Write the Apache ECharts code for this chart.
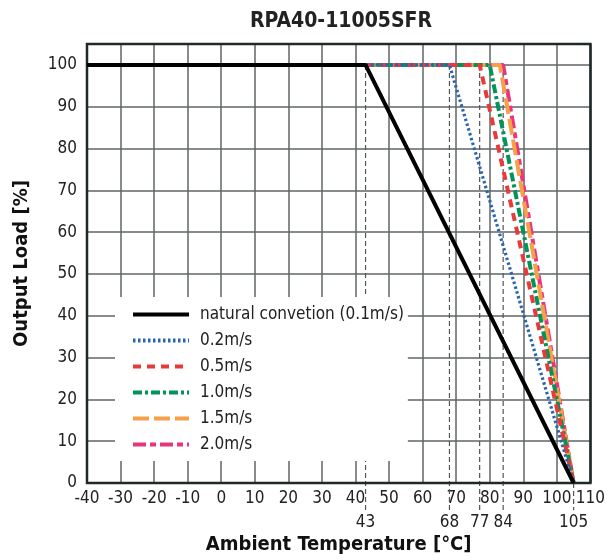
<!DOCTYPE html>
<html>
<head>
<meta charset="utf-8">
<script src="https://cdn.jsdelivr.net/npm/echarts@6/dist/echarts.min.js"></script>
<style>
html,body{margin:0;padding:0;background:#fff;}
#c{width:608px;height:560px;}
</style>
</head>
<body>
<div id="c"></div>
<script>
const FONT = "'Liberation Sans Narrow','DejaVu Sans Condensed','Roboto Condensed',Roboto,sans-serif";
const titleText = 'RPA40-11005SFR';
const xName = 'Ambient Temperature [°C]';
const yName = 'Output Load [%]';
const seriesNames = ['natural convetion (0.1m/s)', '0.2m/s', '0.5m/s', '1.0m/s', '1.5m/s', '2.0m/s'];
const naturalConv = [[-40, 100], [43, 100], [105, 0]];
const air02 = [[43, 100], [68, 100], [105, 0]];
const air05 = [[43, 100], [77, 100], [105, 0]];
const air10 = [[43, 100], [80, 100], [105, 0]];
const air15 = [[43, 100], [83, 100], [105, 0]];
const air20 = [[43, 100], [84, 100], [105, 0]];
const refTemps = [43, 68, 77, 84];
const endTemp = 105;

const colors = ['#000000', '#2a64ae', '#e8393b', '#00935a', '#f7a04a', '#e8357e'];
const dashes = ['solid', [2.5, 2.5], [8, 6], [9, 3, 3, 3], [16, 5], [13, 4, 6, 4]];
const widths = [4, 3.2, 4, 4, 4, 4];
const datasets = [naturalConv, air02, air05, air10, air15, air20];

const labelStyle = { show: true, position: 'bottom', distance: 3, color: '#222', fontSize: 17, fontFamily: FONT };
const series = [];
function refLine(t, topVal) {
  series.push({
    type: 'line', silent: true, clip: false, z: 1,
    symbol: 'circle', symbolSize: 1, showSymbol: true,
    itemStyle: { color: 'rgba(0,0,0,0)' },
    lineStyle: { color: '#555', width: 1.2, type: [5, 3] },
    data: [
      { value: [t, topVal], label: { show: false } },
      { value: [t, -6.5], label: Object.assign({ formatter: String(t) }, labelStyle) }
    ]
  });
}
refTemps.forEach(t => refLine(t, 100));
refLine(endTemp, 0);

// draw colored first, black last
for (let i = datasets.length - 1; i >= 0; i--) {
  series.push({
    name: seriesNames[i], type: 'line', symbol: 'none', z: i === 0 ? 5 : 3,
    lineStyle: { color: colors[i], width: widths[i], type: dashes[i] },
    itemStyle: { color: colors[i], opacity: 0 },
    data: datasets[i]
  });
}

const chart = echarts.init(document.getElementById('c'), null, { renderer: 'canvas' });
chart.setOption({
  animation: false,
  backgroundColor: '#fff',
  title: {
    text: titleText, left: 336, textAlign: 'center', top: 6,
    textStyle: { fontFamily: FONT, fontSize: 21, fontWeight: 'bold', color: '#222' }
  },
  legend: {
    data: seriesNames, orient: 'vertical', left: 115, top: 297,
    backgroundColor: '#fff', padding: [9, 4, 8, 16],
    itemWidth: 56, itemHeight: 14, itemGap: 9,
    itemStyle: { opacity: 0 },
    lineStyle: { width: 4 },
    textStyle: { fontFamily: FONT, fontSize: 17, color: '#222', padding: [0, 0, 0, 6] },
    z: 10
  },
  grid: { left: 87, right: 16, top: 44, bottom: 77, show: true, borderColor: '#1d2a2a', borderWidth: 2.5, backgroundColor: 'transparent', z: 4 },
  xAxis: {
    type: 'value', min: -40, max: 110, interval: 10,
    name: xName, nameLocation: 'middle', nameGap: 52,
    nameTextStyle: { fontFamily: FONT, fontSize: 20, fontWeight: 'bold', color: '#111' },
    axisLine: { show: false }, axisTick: { show: false },
    axisLabel: { fontFamily: FONT, fontSize: 17, color: '#222', margin: 7 },
    splitLine: { show: true, lineStyle: { color: '#5f6464', width: 1.5 } }
  },
  yAxis: {
    type: 'value', min: 0, max: 105, interval: 10,
    name: yName, nameLocation: 'middle', nameGap: 55,
    nameTextStyle: { fontFamily: FONT, fontSize: 20, fontWeight: 'bold', color: '#111' },
    axisLine: { show: false }, axisTick: { show: false },
    axisLabel: { fontFamily: FONT, fontSize: 17, color: '#222', margin: 10, showMaxLabel: false,
      formatter: v => (v % 10 === 0 ? String(v) : '') },
    splitLine: { show: true, lineStyle: { color: '#5f6464', width: 1.5 } }
  },
  series: series
});
</script>
</body>
</html>
